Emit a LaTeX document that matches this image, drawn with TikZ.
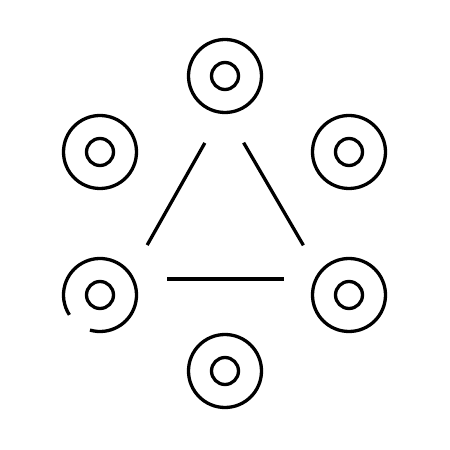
\documentclass[tikz,border=0pt]{standalone}
\begin{document}
\begin{tikzpicture}[x=1pt,y=1pt,line width=3.3pt,
outer ring/.style={circle,draw,minimum size=73pt,inner sep=0pt,outer sep=0pt},
inner ring/.style={circle,draw,minimum size=27pt,inner sep=0pt,outer sep=0pt},
side/.style={shorten >=39pt,shorten <=39pt}]
\useasboundingbox (0,0) rectangle (450,450);

% five closed discs
\foreach \n/\x/\y in {top/225/374, upleft/100/298, upright/349/298, lowright/349/155, bottom/225/79}{
    \node[outer ring] (\n) at (\x,\y) {};
    \node[inner ring] (\n-in) at (\x,\y) {};
}
% the broken one
\node[outer ring,draw=none] (lowleft) at (100,155) {};
\node[inner ring] (lowleft-in) at (100,155) {};
\draw (lowleft.254) arc[start angle=254,end angle=573,radius=36.5];

% triangle
\coordinate (apex) at (224,341);
\coordinate (left) at (128,171);
\coordinate (right) at (323,171);
\draw[side] (apex) -- (left);
\draw[side] (apex) -- (right);
\draw[side] (left) -- (right);

\end{tikzpicture}
\end{document}
